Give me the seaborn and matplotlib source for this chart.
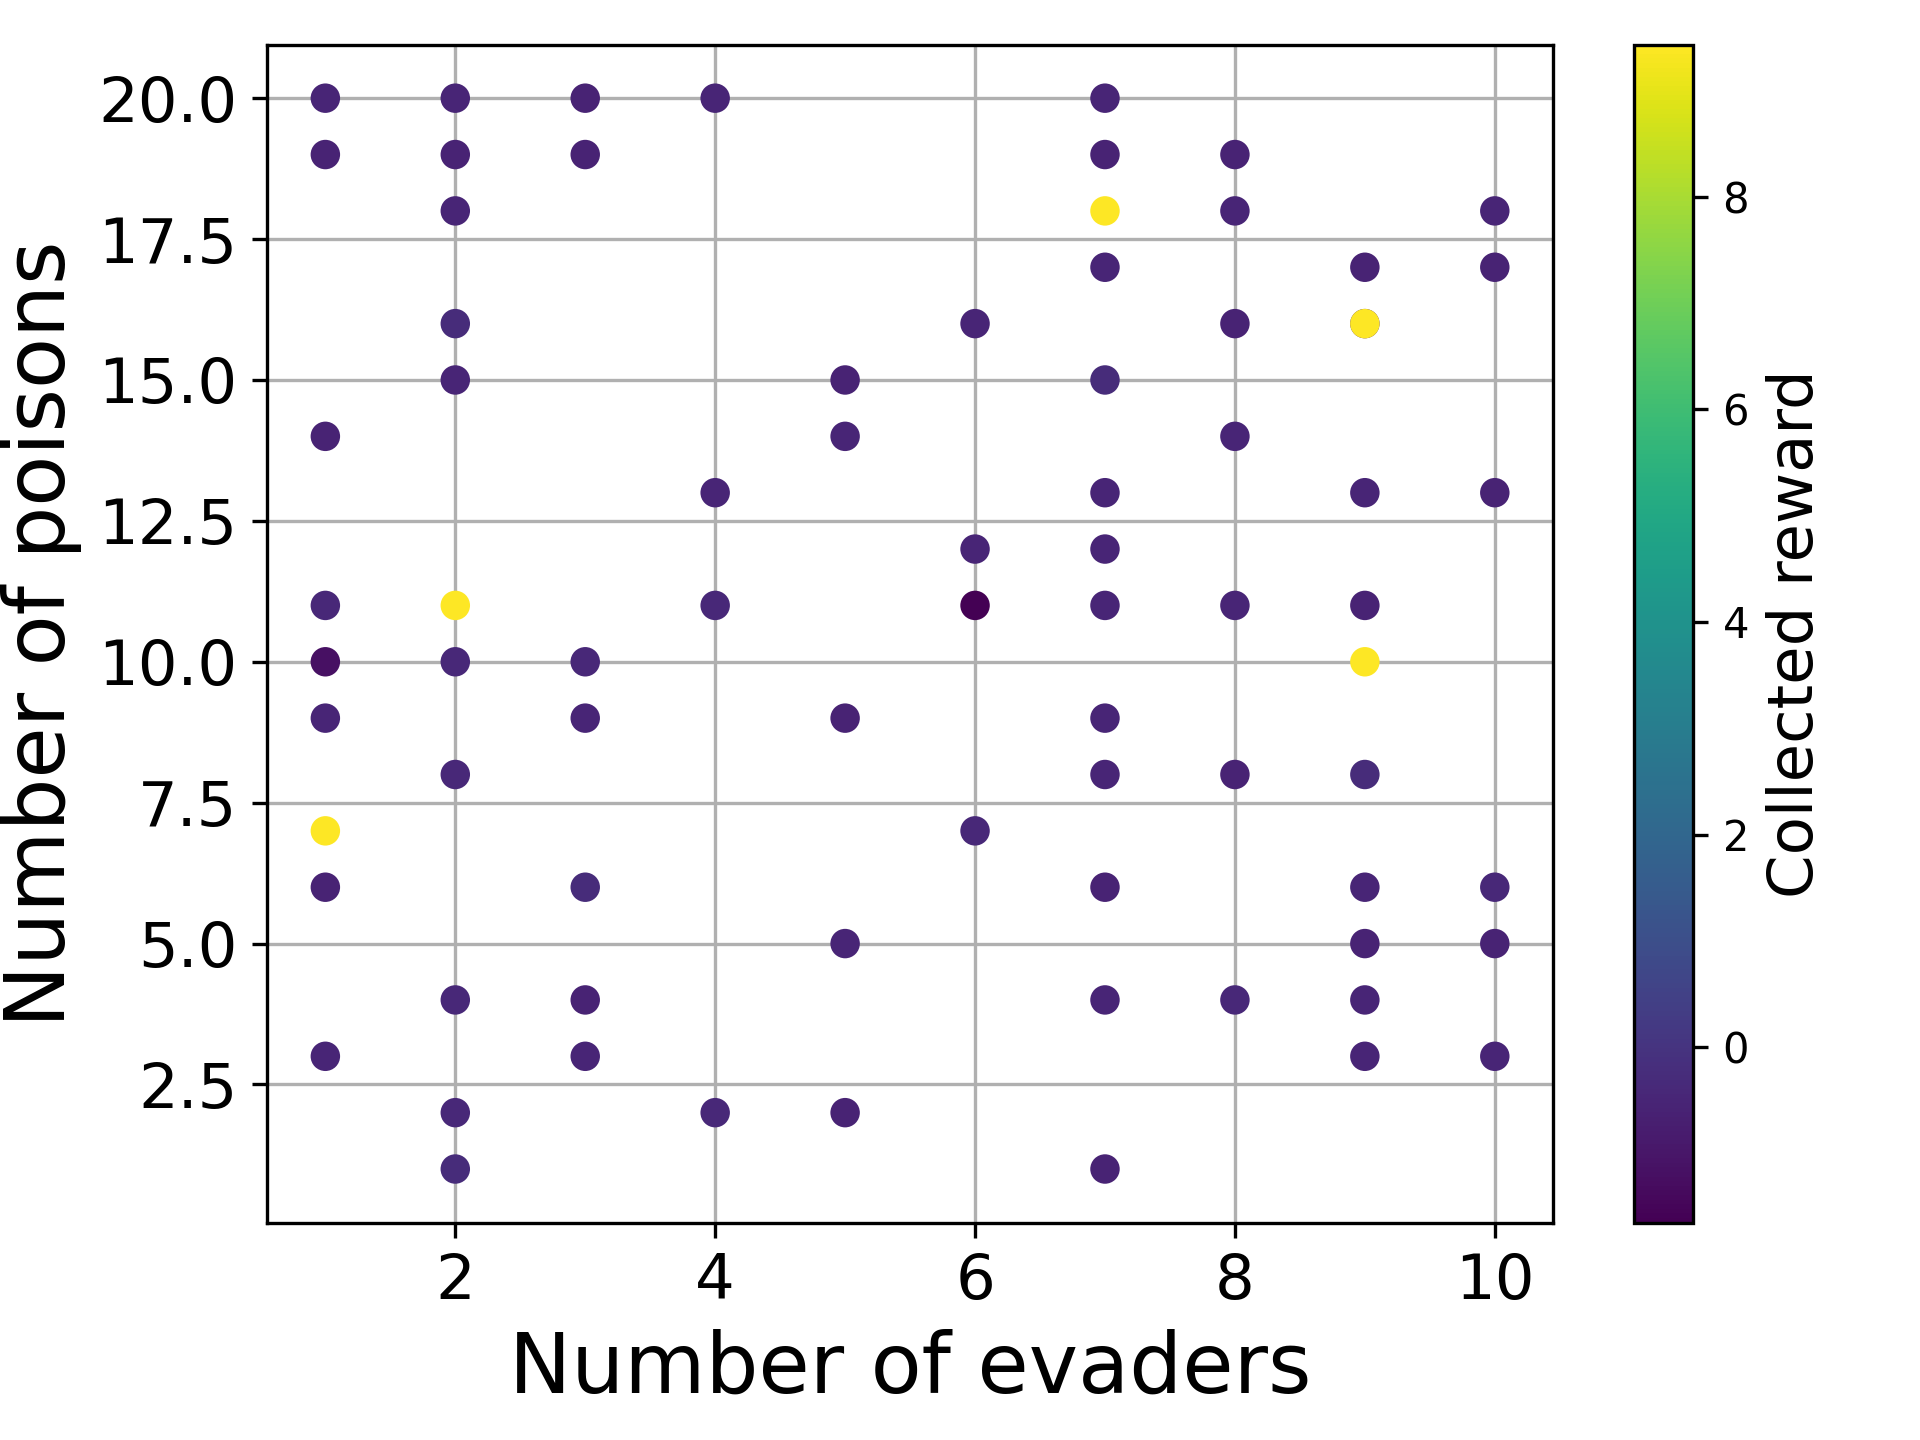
import numpy as np
import pandas as pd
import matplotlib
matplotlib.use("Agg")
import matplotlib.pyplot as plt
from matplotlib.ticker import MultipleLocator, FormatStrFormatter
import seaborn as sns

# number of evaders, number of poisons, collected reward (one entry per run)
evaders = [1, 1, 1, 1, 1, 1, 1, 1, 1,
           2, 2, 2, 2, 2, 2, 2, 2, 2, 2, 2,
           3, 3, 3, 3, 3, 3, 3,
           4, 4, 4, 4,
           5, 5, 5, 5, 5,
           6, 6, 6, 6,
           7, 7, 7, 7, 7, 7, 7, 7, 7, 7, 7, 7, 7,
           8, 8, 8, 8, 8, 8, 8,
           9, 9, 9, 9, 9, 9, 9, 9, 9, 9, 9,
           10, 10, 10, 10, 10, 10]
poisons = [20, 19, 14, 11, 10, 9, 7, 6, 3,
           20, 19, 18, 16, 15, 11, 10, 8, 4, 2, 1,
           20, 19, 10, 9, 6, 4, 3,
           20, 13, 11, 2,
           15, 14, 9, 5, 2,
           16, 12, 11, 7,
           20, 19, 18, 17, 15, 13, 12, 11, 9, 8, 6, 4, 1,
           19, 18, 16, 14, 11, 8, 4,
           17, 16, 16, 13, 11, 10, 8, 6, 5, 4, 3,
           18, 17, 13, 6, 5, 3]
reward = [-0.5, -0.6, -0.6, -0.4, -1.2, -0.5, 9.43, -0.6, -0.5,
          -0.5, -0.6, -0.5, -0.3, -0.5, 9.4, -0.4, -0.4, -0.4, -0.4, -0.3,
          -0.6, -0.6, -0.4, -0.5, -0.3, -0.6, -0.5,
          -0.5, -0.5, -0.4, -0.4,
          -0.6, -0.5, -0.6, -0.5, -0.6,
          -0.5, -0.5, -1.65, -0.4,
          -0.5, -0.6, 9.4, -0.5, -0.3, -0.5, -0.5, -0.5, -0.5, -0.5, -0.6, -0.5, -0.6,
          -0.6, -0.5, -0.6, -0.5, -0.5, -0.6, -0.4,
          -0.6, -0.6, 9.4, -0.5, -0.6, 9.4, -0.3, -0.5, -0.6, -0.5, -0.5,
          -0.5, -0.6, -0.6, -0.4, -0.6, -0.5]

df = pd.DataFrame({"evaders": evaders, "poisons": poisons, "reward": reward})
vmin, vmax = min(reward), max(reward)

fig = plt.figure(figsize=(6.4, 4.8), dpi=300)
ax = fig.add_axes([0.139, 0.151, 0.670, 0.818])
cax = fig.add_axes([0.851, 0.151, 0.031, 0.818])

sns.scatterplot(data=df, x="evaders", y="poisons", hue="reward",
                palette="viridis", hue_norm=(vmin, vmax), s=50,
                linewidth=0, legend=False, ax=ax, zorder=3)
ax.grid(True, zorder=0)
ax.set_axisbelow(True)
ax.yaxis.set_major_locator(MultipleLocator(2.5))
ax.yaxis.set_major_formatter(FormatStrFormatter("%.1f"))

sm = plt.cm.ScalarMappable(cmap="viridis", norm=plt.Normalize(vmin, vmax))
cbar = fig.colorbar(sm, cax=cax)
cbar.set_label("Collected reward", fontsize=15)

ax.set_xlabel("Number of evaders", fontsize=20)
ax.set_ylabel("Number of poisons", fontsize=20)
ax.tick_params(labelsize=15)

fig.savefig("out.png", dpi=300)
